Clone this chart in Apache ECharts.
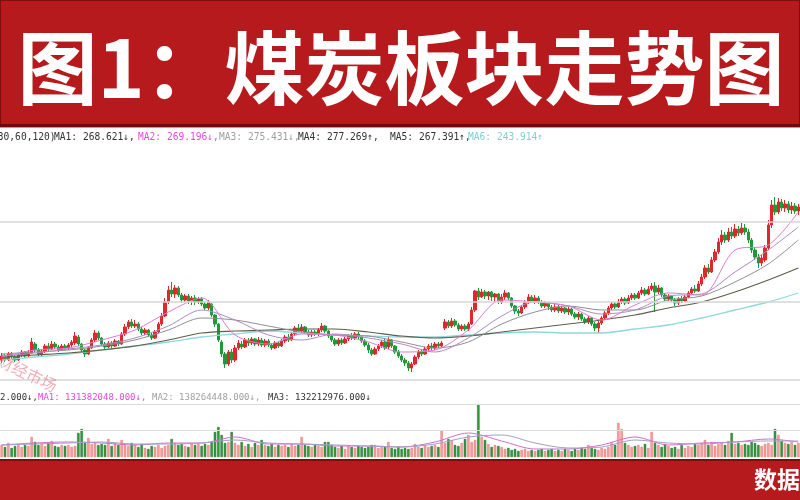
<!DOCTYPE html>
<html><head><meta charset="utf-8">
<script src="https://cdn.jsdelivr.net/npm/echarts@6.0.0/dist/echarts.min.js"></script>
<style>html,body{margin:0;padding:0;background:#fff}#c{width:800px;height:500px}</style>
</head><body><div id="c"></div>
<script>
// OHLC per trading day: [open, close, low, high] (chart units, no axis labels shown)
const candles = [
[30,34,27,37],[34,31,28,36],[31,36,29,38],[36,33,31,38],[33,30,28,35],[30,35,29,37],[35,38,33,40],[38,34,32,39],[34,37,32,40],[37,48,36,52],
[46,40,38,48],[40,36,34,42],[36,39,34,41],[39,44,37,46],[44,41,39,47],[41,46,40,49],[46,43,41,48],[43,40,38,45],[40,44,39,46],[44,42,40,46],
[42,45,40,47],[45,48,43,50],[47,54,45,58],[53,46,44,55],[46,40,38,47],[40,36,33,41],[36,42,35,44],[42,50,41,52],[50,57,48,60],[57,52,50,59],
[52,46,44,53],[46,43,41,48],[43,47,42,49],[47,44,42,49],[44,49,43,51],[49,46,44,50],[46,56,45,58],[56,63,54,66],[63,68,61,70],[68,64,62,71],
[64,66,62,70],[66,61,59,68],[61,57,55,63],[57,60,55,62],[60,55,53,61],[55,52,50,57],[52,58,51,60],[58,66,57,68],[66,74,64,77],[74,88,73,92],
[88,100,86,104],[100,96,93,108],[96,102,92,105],[102,95,93,104],[95,90,87,97],[90,94,88,96],[94,89,86,96],[89,92,85,94],[92,88,85,95],[88,91,86,93],
[91,86,84,93],[86,82,80,88],[82,88,80,90],[86,75,73,87],[75,66,63,76],[66,50,48,67],[48,36,33,50],[36,26,22,38],[26,38,24,40],[38,30,27,41],
[30,42,28,45],[42,47,40,50],[46,43,41,49],[43,50,42,52],[50,47,44,52],[47,51,45,53],[51,46,44,52],[46,50,44,53],[50,45,43,52],[45,49,43,51],
[49,45,43,51],[45,42,40,47],[42,47,41,49],[47,44,42,48],[44,49,43,51],[49,53,47,55],[53,50,48,56],[50,56,49,58],[56,62,54,64],[62,59,57,66],
[59,63,57,66],[63,58,56,64],[58,55,53,60],[55,58,53,60],[58,56,54,60],[56,60,54,62],[60,64,58,67],[64,59,57,65],[59,54,52,60],[54,50,48,56],
[50,46,44,52],[46,50,44,52],[50,47,45,52],[47,51,46,53],[51,54,49,56],[54,52,50,57],[52,56,50,58],[56,53,51,58],[53,49,47,55],[49,45,43,51],
[45,40,37,47],[40,36,34,42],[36,41,35,43],[41,44,39,46],[44,48,42,50],[48,42,40,52],[43,50,41,54],[50,44,42,51],[44,38,36,45],[38,34,32,40],
[34,30,28,36],[30,27,24,32],[27,22,19,29],[22,26,18,28],[26,33,25,35],[33,38,31,40],[38,36,34,41],[36,41,35,43],[41,44,39,46],[44,42,40,47],
[42,46,40,48],[46,44,42,48],[44,47,42,49],[62,68,60,71],[68,64,62,70],[64,69,62,72],[69,65,63,71],[65,61,59,67],[61,64,59,66],[64,61,59,66],
[61,66,59,68],[66,80,65,83],[80,99,78,100],[99,93,90,102],[93,98,92,101],[98,94,91,100],[94,98,90,99],[98,93,89,99],[93,96,88,97],[96,89,86,97],
[88,93,86,96],[93,97,90,100],[97,92,90,98],[92,84,82,93],[84,79,76,85],[79,77,74,81],[77,83,76,85],[83,88,81,90],[88,93,86,96],[93,89,87,95],
[89,92,86,95],[92,88,86,94],[88,84,82,90],[84,87,82,89],[87,83,80,88],[83,80,78,85],[80,83,78,86],[83,79,77,85],[79,82,77,84],[82,78,76,83],
[78,81,75,83],[81,76,74,82],[76,73,71,78],[73,76,70,78],[76,71,69,77],[71,68,66,73],[68,72,66,74],[72,66,64,73],[66,62,59,68],[62,67,57,69],
[67,72,65,74],[72,77,70,79],[77,82,75,84],[82,86,80,88],[86,83,81,88],[83,88,82,91],[88,91,86,93],[91,87,85,93],[87,92,86,95],[92,95,90,97],
[95,92,90,97],[92,97,91,99],[97,100,95,103],[100,96,94,102],[96,101,95,104],[101,104,99,107],[104,98,78,108],[98,102,96,105],[102,95,93,103],[95,91,89,97],
[91,94,89,96],[94,90,88,95],[90,87,84,92],[87,91,85,93],[91,89,87,94],[89,93,88,95],[93,97,92,99],[97,101,95,103],[101,99,97,105],[99,106,98,109],
[106,113,104,116],[113,122,111,125],[122,118,116,126],[118,130,117,133],[130,138,128,141],[138,148,136,152],[148,155,145,160],[155,150,147,158],[150,158,148,162],[158,154,151,163],
[154,161,152,166],[161,157,154,164],[157,162,155,167],[162,158,155,166],[158,150,147,161],[150,140,137,152],[140,133,130,143],[133,127,122,136],[127,132,124,135],[130,142,128,145],
[142,165,140,170],[165,185,162,190],[185,178,175,193],[178,188,176,192],[188,182,179,191],[182,186,178,190],[186,180,177,189],[180,184,176,188],[184,179,176,187],[179,183,175,186]
];
// traded volume per day (chart units)
const volumes = [
12,10,14,9,11,13,10,12,11,20, 15,12,13,11,14,16,11,10,12,11, 12,10,11,24,28,14,19,13,14,12,
13,12,18,11,14,12,17,12,11,14, 12,10,13,9,8,11,10,12,9,11, 12,18,14,12,13,11,10,14,12,13,
11,13,12,15,25,30,22,14,15,25, 14,12,15,11,13,10,14,12,17,12, 11,13,10,12,11,12,10,13,11,12,
20,12,11,10,12,11,10,15,15,12, 10,9,11,8,12,10,9,11,10,9, 10,12,12,9,11,10,15,9,8,10,
8,9,8,9,13,10,9,12,10,11, 12,10,26,14,18,17,12,11,14,18, 22,15,17,53,20,17,13,10,12,11,
10,8,9,7,8,6,7,8,6,7, 6,7,8,6,7,8,6,7,6,8, 7,6,8,7,9,8,12,9,8,7,
9,8,10,15,12,34,28,14,12,10, 11,12,10,13,9,25,14,12,10,13, 11,9,10,8,12,9,11,10,13,12,
14,17,12,15,11,13,14,12,16,24, 13,14,12,13,12,15,14,12,11,13, 14,12,28,22,16,14,13,15,12,14
];
// moving-average lines read at these day indices
const sampleIdx = [0,10,20,30,40,50,60,70,80,90,100,110,120,130,140,150,160,170,180,190,200,210,220,230,239];
const ma2 = [33,40,42,50,60,78,92,55,46,56,55,48,38,40,60,90,88,84,70,85,97,95,140,145,178];
const ma3 = [34,37,41,45,52,64,80,70,55,50,56,52,46,38,52,74,88,84,76,80,94,96,118,140,163];
const ma4 = [36,38,40,44,50,60,72,70,64,58,55,54,48,42,48,66,78,84,80,80,90,94,108,126,150];
const ma5 = [33,35,37,40,44,50,57,59,60,61,61,58,54,52,54,58,62,66,70,75,82,88,98,110,122];
const ma6 = [30,33,36,40,44,48,53,56,59,57,55,54,53,53,55,57,58,57,57,61,65,72,80,88,97];
const volMa1 = [12,14,15,14,12,14,14,20,13,13,11,11,10,15,24,16,8,8,12,20,12,14,15,18,15];
const volMa2 = [12,13,14,15,13,13,14,17,14,13,12,11,10,13,20,22,14,9,10,17,14,13,15,16,16];
const priceGrid = [10, 88, 168];
const volGrid = [27, 53];
const titleText = '图1：煤炭板块走势图';
const legendMain = [
  ['(30,60,120)', '#333'], ['MA1: 268.621↓,', '#333'], ['MA2: 269.196↓,', '#e04ad8'],
  ['MA3: 275.431↓,', '#a0a0a0'], ['MA4: 277.269↑,', '#333'], ['MA5: 267.391↑,', '#333'], ['MA6: 243.914↑', '#7fd0d0']
];
const legendMainX = [-8, 54, 138, 219, 298, 390, 468];
const legendVol = [
  ['2.000↓,', '#333'], ['MA1: 131382048.000↓,', '#e04ad8'], ['MA2: 138264448.000↓,', '#a0a0a0'], ['MA3: 132212976.000↓', '#333']
];
const legendVolX = [0, 38, 152, 268];

const days = candles.map((_, i) => 'D' + (i + 1));
const pairs = arr => arr.map((v, k) => [sampleIdx[k], v]);

const chart = echarts.init(document.getElementById('c'), null, {renderer: 'canvas'});
const maLine = (name, arr, color, w) => ({
  type: 'line', name, xAxisIndex: 0, yAxisIndex: 0, data: pairs(arr), symbol: 'none', smooth: 0.3, z: 3,
  lineStyle: {color, width: w}, silent: true
});
const vLine = (arr, color) => ({
  type: 'line', xAxisIndex: 1, yAxisIndex: 1, data: pairs(arr), symbol: 'none', smooth: 0.3, z: 4,
  lineStyle: {color, width: 1}, silent: true
});

const graphics = [
  {type: 'rect', shape: {x: 0, y: 0, width: 800, height: 125}, style: {fill: '#b71a1d', stroke: '#7d0d0f', lineWidth: 2}, z: 100},
  {type: 'rect', shape: {x: 0, y: 124, width: 800, height: 3}, style: {fill: '#6e0a0c'}, z: 101},
  {type: 'rect', shape: {x: 0, y: 127, width: 800, height: 1}, style: {fill: '#9aa6c0'}, z: 101},
  {type: 'text', x: 401, y: 68, z: 102, style: {text: titleText, fill: '#ffffff', font: 'bold 80px "Noto Sans CJK SC"', align: 'center', verticalAlign: 'middle', textAlign: 'center', textVerticalAlign: 'middle', shadowColor: '#4a0608', shadowOffsetX: 2, shadowOffsetY: 3, shadowBlur: 0}},
  {type: 'rect', shape: {x: 0, y: 460, width: 800, height: 40}, style: {fill: '#b71a1d'}, z: 100},
  {type: 'rect', shape: {x: 0, y: 459, width: 800, height: 2}, style: {fill: '#7d0d0f'}, z: 101},
  {type: 'text', x: 754, y: 479, z: 102, style: {text: '数据来源', fill: '#ffffff', font: 'bold 23px "Noto Sans CJK SC"', textVerticalAlign: 'middle', verticalAlign: 'middle'}},
  {type: 'text', x: 2, y: 352, rotation: -0.45, z: 50, style: {text: '财经市场', fill: 'rgba(225,110,130,0.55)', font: '16px "Noto Sans CJK SC"'}}
];
legendMain.forEach((s, k) => graphics.push({type: 'text', x: legendMainX[k], y: 137, z: 60,
  style: {text: s[0], fill: s[1], font: '9.6px "DejaVu Sans Mono"', textVerticalAlign: 'middle', verticalAlign: 'middle'}}));
legendVol.forEach((s, k) => graphics.push({type: 'text', x: legendVolX[k], y: 398, z: 60,
  style: {text: s[0], fill: s[1], font: '9px "DejaVu Sans Mono"', textVerticalAlign: 'middle', verticalAlign: 'middle'}}));

const upColor = '#e3262b', downColor = '#1f9a3a';
chart.setOption({
  animation: false,
  backgroundColor: '#ffffff',
  grid: [
    {left: 0, right: 0, top: 150, height: 240},
    {left: 0, right: 0, top: 404, height: 53}
  ],
  xAxis: [
    {type: 'category', gridIndex: 0, data: days, boundaryGap: true, show: false},
    {type: 'category', gridIndex: 1, data: days, boundaryGap: true, show: false}
  ],
  yAxis: [
    {type: 'value', gridIndex: 0, min: 0, max: 240, show: false, splitLine: {show: false}},
    {type: 'value', gridIndex: 1, min: 0, max: 53, show: false, splitLine: {show: false}}
  ],
  graphic: graphics,
  series: [
    {type: 'line', xAxisIndex: 0, yAxisIndex: 0, data: [], z: 1, silent: true,
      markLine: {silent: true, symbol: 'none', label: {show: false}, lineStyle: {color: '#d6d6d6', width: 1.5, type: 'solid'},
        data: priceGrid.map(v => ({yAxis: v}))}},
    {type: 'line', xAxisIndex: 1, yAxisIndex: 1, data: [], z: 1, silent: true,
      markLine: {silent: true, symbol: 'none', label: {show: false}, lineStyle: {color: '#dcdcdc', width: 1.2, type: 'solid'},
        data: volGrid.map(v => ({yAxis: v}))}},
    {type: 'candlestick', xAxisIndex: 0, yAxisIndex: 0, data: candles, barWidth: 2.8, z: 2,
      itemStyle: {color: upColor, color0: downColor, borderColor: upColor, borderColor0: downColor, borderWidth: 1}},
    maLine('MA6', ma6, '#8fd8dc', 1.3),
    maLine('MA5', ma5, '#5f5f4a', 1.2),
    maLine('MA4', ma4, '#8f8f8f', 1),
    maLine('MA3', ma3, '#b08ac0', 1),
    maLine('MA2', ma2, '#e07ad0', 1),
    {type: 'bar', xAxisIndex: 1, yAxisIndex: 1, barWidth: 2.4, z: 2,
      data: volumes.map((v, i) => ({value: v, itemStyle: candles[i][1] >= candles[i][0]
        ? {color: '#f4a4a0', borderColor: '#e26a6a', borderWidth: 0.5}
        : {color: '#2fa33c', borderColor: '#1d5e22', borderWidth: 0.5}}))},
    vLine(volMa1, '#d070c8'),
    vLine(volMa2, '#a0a0c8')
  ]
});
</script>
</body></html>
